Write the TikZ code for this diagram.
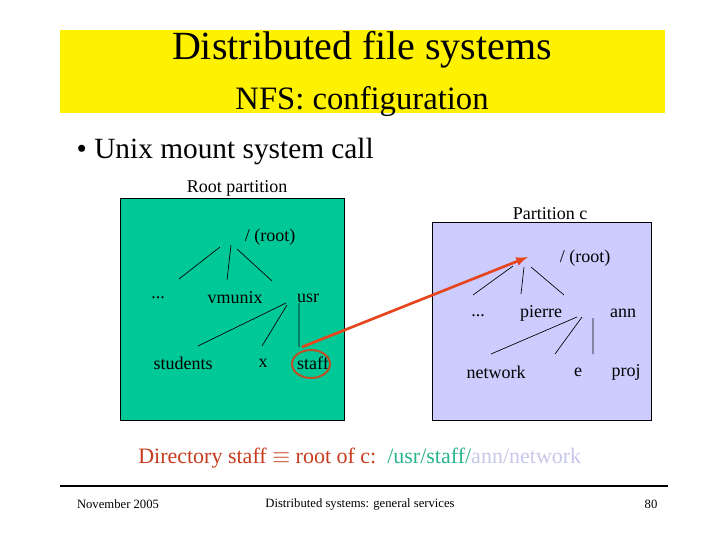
\documentclass[tikz,border=0pt]{standalone}
\usepackage{fontspec}
\setmainfont{Liberation Serif}
\begin{document}
\begin{tikzpicture}[x=0.75pt,y=-0.75pt,
  t/.style={font=\fontsize{13.5}{15}\selectfont,inner sep=0pt},
  br/.style={line width=0.5pt}]
\useasboundingbox (0,0) rectangle (720,540);
\fill[white] (0,0) rectangle (720,540);
\fill[yellow] (60,30) rectangle (665,113);
\node (title) at (362,50) {\fontsize{30}{34}\selectfont Distributed file systems};
\node (sub) at (362,102) {\fontsize{24.5}{28}\selectfont NFS: configuration};
\node[anchor=west] (bul) at (72,151) {\fontsize{22}{26}\selectfont\textbullet\ Unix mount system call};
\draw[fill=cyan!40!green!75!black, fill={rgb,255:red,0;green,200;blue,150}] (120,198) rectangle (344,420);
\draw[fill={rgb,255:red,204;green,204;blue,255}] (432,222) rectangle (651,420);
\node[t] (rp) at (237,188) {Root partition};
\node[t] (pc) at (550,214) {Partition c};
\node[t] (lroot) at (270,237) {/ (root)};
\node[t] (ldots) at (158,298) {...};
\node[t] (vm) at (235,298) {vmunix};
\node[t] (usr) at (308,298) {usr};
\node[t] (stu) at (183,363) {students};
\node[t] (x) at (263,363) {x};
\node[t] (staff) at (313,363) {staff};
\node[t] (rroot) at (585,258) {/ (root)};
\node[t] (rdots) at (478,316) {...};
\node[t] (pierre) at (541,313) {pierre};
\node[t] (ann) at (623,313) {ann};
\node[t] (net) at (496,372) {network};
\node[t] (e) at (578,372) {e};
\node[t] (proj) at (626,372) {proj};
\draw[br] (220,247)--(179,279) (231,245)--(227,280) (237,249)--(272,281);
\draw[br] (286,303)--(198,346) (287,305)--(262,346) (299,303)--(299,347);
\draw[br] (513,266)--(473,295) (524,267)--(521,294) (531,267)--(564,295);
\draw[br] (577,317)--(491,354) (582,317)--(555,354) (593,318)--(593,354);
\draw[line width=1.5pt,color={rgb,255:red,190;green,80;blue,40}] (311,364) ellipse (19 and 14);
\coordinate (a1) at (302,347); \coordinate (a2) at (528,257);
\draw[line width=2pt,color={rgb,255:red,230;green,70;blue,30},-latex] (a1)--(a2);
\node[anchor=west,inner sep=0pt] (dir) at (138,458) {\fontsize{16.5}{20}\selectfont
 \textcolor[RGB]{200,60,30}{Directory staff $\equiv$ root of c:}\ \ \textcolor[RGB]{40,180,140}{/usr/staff/}\textcolor[RGB]{200,200,235}{ann/network}};
\draw[line width=1pt] (60,486)--(668,486);
\node[font=\fontsize{9.5}{11}\selectfont] (f1) at (118,504) {November 2005};
\node[font=\fontsize{9.5}{11}\selectfont] (f2) at (360,504) {Distributed systems: general services};
\node[font=\fontsize{9.5}{11}\selectfont] (f3) at (651,504) {80};
\end{tikzpicture}
\end{document}
